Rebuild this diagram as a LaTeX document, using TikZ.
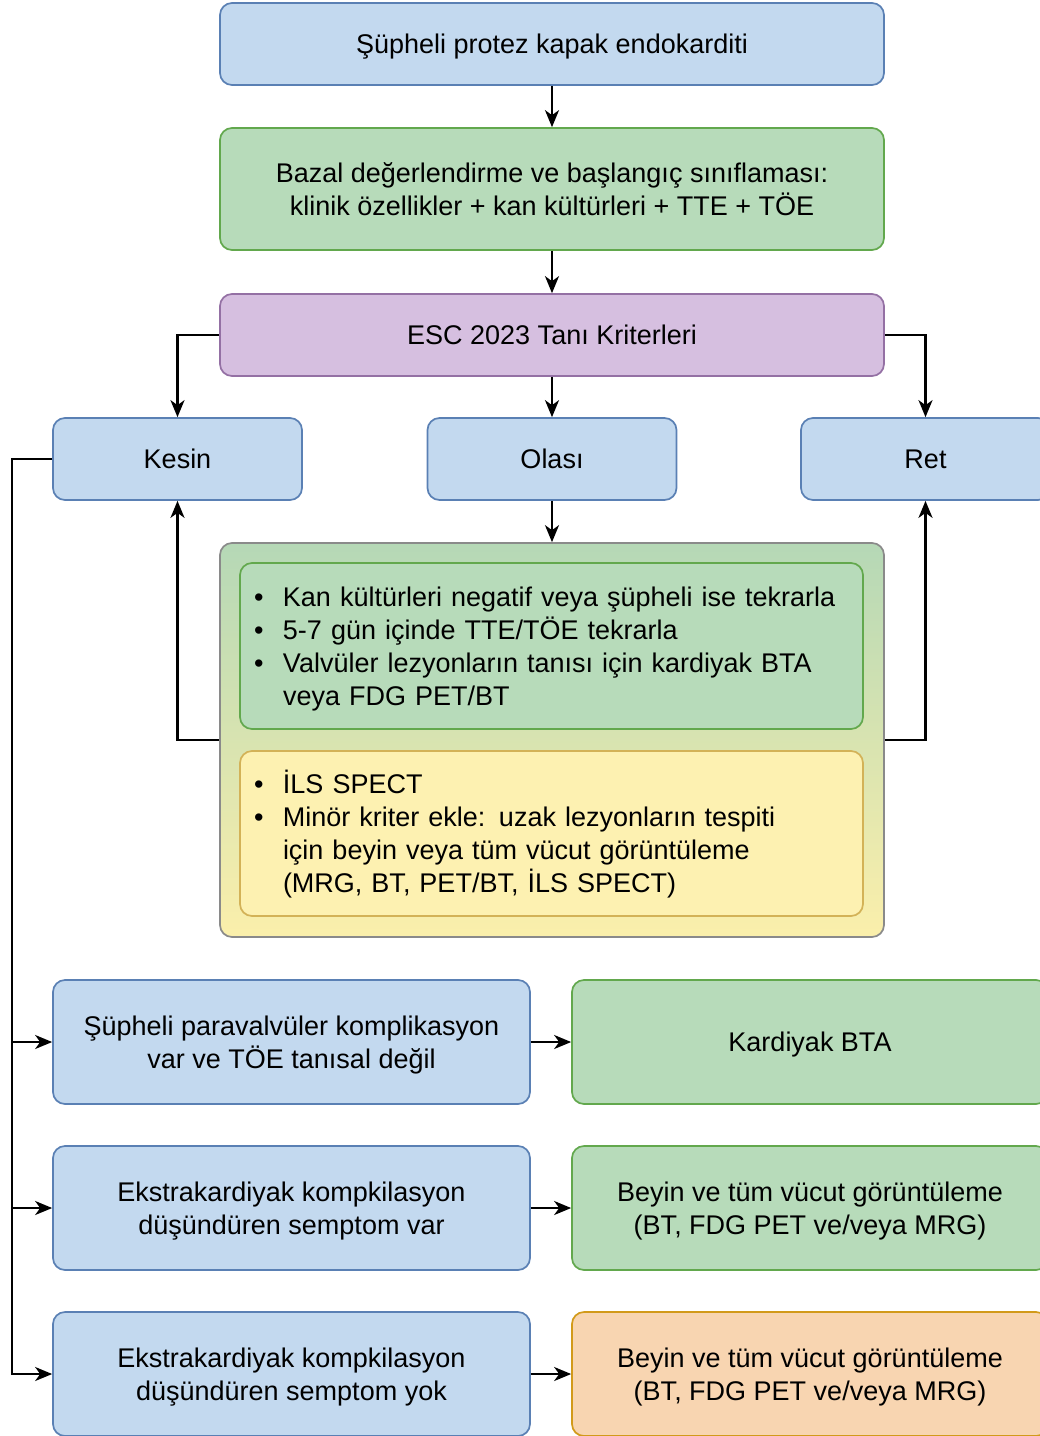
\documentclass[tikz,border=0pt]{standalone}
\usepackage{fontspec}
\setmainfont{Liberation Sans}
\usetikzlibrary{arrows.meta}
\definecolor{bluef}{HTML}{C3D9EF}
\definecolor{bluel}{HTML}{5A80B4}
\definecolor{greenf}{HTML}{B7DBBA}
\definecolor{greenl}{HTML}{62A84D}
\definecolor{purf}{HTML}{D6BFE0}
\definecolor{purl}{HTML}{9470A4}
\definecolor{yelf}{HTML}{FDF1B1}
\definecolor{yell}{HTML}{D3B257}
\definecolor{oraf}{HTML}{F8D5B1}
\definecolor{oral}{HTML}{D29A1A}
\definecolor{contl}{HTML}{8A8A8A}
\definecolor{conttop}{HTML}{B5D8B6}
\definecolor{contbot}{HTML}{FBEFAB}
\newcommand\bulitem[1]{\makebox[29pt][l]{\textbullet}#1}
\newcommand\topstrut{\rule{0pt}{27pt}}
\newcommand\botstrut{\rule[-7.6pt]{0pt}{7.6pt}}
\begin{document}
\begin{tikzpicture}[x=1pt,y=-1pt,
  box/.style={draw, rounded corners=12pt, line width=1.7pt, align=flush center,
    font=\fontsize{27}{33}\selectfont, inner sep=0pt,
    execute at begin node=\topstrut, execute at end node=\botstrut},
  bluebox/.style={box, fill=bluef, draw=bluel},
  greenbox/.style={box, fill=greenf, draw=greenl},
  purbox/.style={box, fill=purf, draw=purl},
  yelbox/.style={box, fill=yelf, draw=yell},
  orabox/.style={box, fill=oraf, draw=oral},
  listbox/.style={align=left, inner xsep=14pt, text width=595pt},
  conn/.style={line width=2.2pt, -{Stealth[length=17pt,width=14pt,inset=5pt]}}
]
\path[use as bounding box, clip] (0,0) rectangle (1040,1436);

\node[bluebox, text width=640pt, minimum width=664pt, minimum height=82pt] (top) at (552,44) {Şüpheli protez kapak endokarditi};
\node[greenbox, text width=640pt, minimum width=664pt, minimum height=122pt] (bazal) at (552,189)
  {Bazal değerlendirme ve başlangıç sınıflaması:\\klinik özellikler + kan kültürleri + TTE + TÖE};
\node[purbox, text width=640pt, minimum width=664pt, minimum height=82pt] (esc) at (552,335) {ESC 2023 Tanı Kriterleri};

\node[bluebox, text width=230pt, minimum width=249pt, minimum height=82pt] (kesin) at (177.5,459) {Kesin};
\node[bluebox, text width=230pt, minimum width=249pt, minimum height=82pt] (olasi) at (552,459) {Olası};
\node[bluebox, text width=230pt, minimum width=249pt, minimum height=82pt] (ret) at (925.5,459) {Ret};

\node[box, draw=contl, top color=conttop, bottom color=contbot, minimum width=664pt, minimum height=394pt] (cont) at (552,740) {};
\node[greenbox, listbox, minimum height=166pt] (gl) at (551.5,646)
  {\bulitem{Kan kültürleri negatif veya şüpheli ise tekrarla}\\
   \bulitem{5-7 gün içinde TTE/TÖE tekrarla}\\
   \bulitem{Valvüler lezyonların tanısı için kardiyak BTA}\\
   \hspace*{29pt}veya FDG PET/BT};
\node[yelbox, listbox, minimum height=165pt] (yl) at (551.5,833.5)
  {\bulitem{İLS SPECT}\\
   \bulitem{Minör kriter ekle: uzak lezyonların tespiti}\\
   \hspace*{29pt}için beyin veya tüm vücut görüntüleme\\
   \hspace*{29pt}(MRG, BT, PET/BT, İLS SPECT)};

\node[bluebox, text width=460pt, minimum width=477pt, minimum height=124pt] (L1) at (291.5,1042) {Şüpheli paravalvüler komplikasyon\\var ve TÖE tanısal değil};
\node[bluebox, text width=460pt, minimum width=477pt, minimum height=124pt] (L2) at (291.5,1208) {Ekstrakardiyak kompkilasyon\\düşündüren semptom var};
\node[bluebox, text width=460pt, minimum width=477pt, minimum height=124pt] (L3) at (291.5,1374) {Ekstrakardiyak kompkilasyon\\düşündüren semptom yok};

\node[greenbox, text width=460pt, minimum width=476pt, minimum height=124pt] (R1) at (810,1042) {Kardiyak BTA};
\node[greenbox, text width=460pt, minimum width=476pt, minimum height=124pt] (R2) at (810,1208) {Beyin ve tüm vücut görüntüleme\\(BT, FDG PET ve/veya MRG)};
\node[orabox, text width=460pt, minimum width=476pt, minimum height=124pt] (R3) at (810,1374) {Beyin ve tüm vücut görüntüleme\\(BT, FDG PET ve/veya MRG)};

\draw[conn] (top) -- (bazal);
\draw[conn] (bazal) -- (esc);
\draw[conn] (esc) -- (olasi);
\draw[conn] (esc.west) -| (kesin.north);
\draw[conn] (esc.east) -| (ret.north);
\draw[conn] (olasi) -- (cont);
\draw[conn] (cont.west) -| (kesin.south);
\draw[conn] (cont.east) -| (ret.south);

\coordinate (rail) at (12,459);
\draw[conn] (kesin.west) -- (rail) |- (L3.west);
\draw[conn] (rail |- L1.west) -- (L1.west);
\draw[conn] (rail |- L2.west) -- (L2.west);

\draw[conn] (L1) -- (R1);
\draw[conn] (L2) -- (R2);
\draw[conn] (L3) -- (R3);
\end{tikzpicture}
\end{document}
